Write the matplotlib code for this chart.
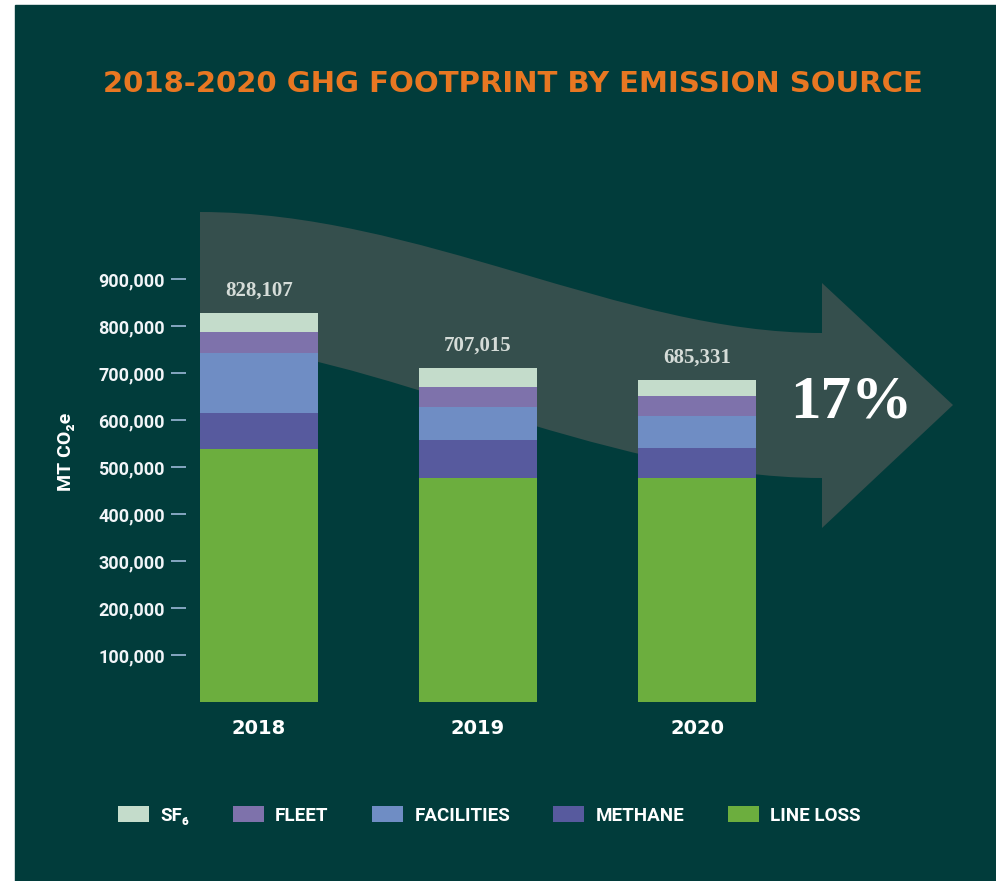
import matplotlib.pyplot as plt
import numpy as np
from matplotlib.path import Path
from matplotlib.patches import PathPatch, Rectangle, Patch


YEARS = ["2018", "2019", "2020"]
LINE_LOSS = [538500, 477400, 477400]
METHANE = [77300, 80300, 62600]
FACILITIES = [127700, 70200, 68100]
FLEET = [44100, 42600, 43900]
SF6 = [40400, 40400, 33400]
TOTAL_LABELS = ["828,107", "707,015", "685,331"]
Y_TICKS = [100000, 200000, 300000, 400000, 500000, 600000, 700000, 800000, 900000]

BG = "#013c3b"
BAND = "#354f4d"
COLORS = {"SF₆": "#c4dccb", "FLEET": "#7e72ab", "FACILITIES": "#6f8dc4",
          "METHANE": "#575a9e", "LINE LOSS": "#6cae3e"}
W, H = 996, 881


def main():
    fig = plt.figure(figsize=(W / 100, H / 100), dpi=100)
    fig.patch.set_facecolor("white")

    # background panel + big arrow, drawn in pixel coordinates
    deco = fig.add_axes([0, 0, 1, 1])
    deco.set_xlim(0, W)
    deco.set_ylim(H, 0)
    deco.axis("off")
    deco.add_patch(Rectangle((15, 5), W - 15, H - 5, color=BG, zorder=0))
    verts = [(200, 212), (420, 212), (620, 333), (822, 333),
             (822, 283), (953, 405), (822, 528), (822, 478),
             (600, 478), (360, 345), (200, 345), (200, 212)]
    codes = [Path.MOVETO, Path.CURVE4, Path.CURVE4, Path.CURVE4,
             Path.LINETO, Path.LINETO, Path.LINETO, Path.LINETO,
             Path.CURVE4, Path.CURVE4, Path.CURVE4, Path.CLOSEPOLY]
    deco.add_patch(PathPatch(Path(verts, codes), facecolor=BAND, edgecolor="none", zorder=1))
    deco.text(851, 403, "17%", ha="center", va="center", color="white",
              fontsize=44, fontweight="bold", family="Liberation Serif", zorder=2)

    # bar chart
    ax = fig.add_axes([160 / W, (H - 702) / H, 820 / W, 502 / H])
    ax.patch.set_alpha(0)
    x = np.arange(len(YEARS))
    bottom = np.zeros(len(YEARS))
    for name, vals in [("LINE LOSS", LINE_LOSS), ("METHANE", METHANE),
                       ("FACILITIES", FACILITIES), ("FLEET", FLEET), ("SF₆", SF6)]:
        ax.bar(x, vals, 0.539, bottom=bottom, color=COLORS[name], linewidth=0)
        bottom += np.array(vals)

    for xi, top, lab in zip(x, bottom, TOTAL_LABELS):
        ax.annotate(lab, (xi, top), xytext=(0, 16), textcoords="offset points",
                    ha="center", va="center", color="#d5dcd8", fontsize=15,
                    fontweight="bold", family="Liberation Serif")

    ax.set_xlim(-99 / 219, 2 + 283 / 219)
    ax.set_ylim(0, 502 / 0.4698 * 1000)
    for s in ax.spines.values():
        s.set_visible(False)
    ax.spines["left"].set_position(("data", -73 / 219))

    ax.set_yticks(Y_TICKS)
    ax.set_yticklabels([f"{v:,}" for v in Y_TICKS], family="Roboto",
                       fontweight="bold", fontsize=13, color="#f2f5f8")
    ax.tick_params(axis="y", direction="out", length=10.8, width=1.2,
                   color="#9bb8d8", pad=4.3)

    ax.set_xticks(x)
    ax.set_xticklabels(YEARS, family="DejaVu Sans", fontweight="bold",
                       fontsize=14, color="white")
    ax.tick_params(axis="x", length=0, pad=12)

    fig.text(66 / W, 1 - 452 / H, "MT CO₂e", rotation=90, ha="center", va="center",
             color="white", fontsize=14, fontweight="bold", family=["Roboto", "DejaVu Sans"])

    fig.text(513 / W, 1 - 84 / H, "2018-2020 GHG FOOTPRINT BY EMISSION SOURCE",
             ha="center", va="center", color="#e87722", fontsize=21,
             fontweight="bold", family="DejaVu Sans")

    handles = [Patch(facecolor=c, edgecolor="none", label=n) for n, c in COLORS.items()]
    leg = fig.legend(handles=handles, loc="center left", bbox_to_anchor=(118 / W, 1 - 815.5 / H),
                     ncol=5, frameon=False, borderpad=0, borderaxespad=0,
                     handlelength=1.65, handleheight=0.9, handletextpad=0.62,
                     columnspacing=2.3,
                     prop={"family": ["Roboto", "DejaVu Sans"], "weight": "bold", "size": 13.5})
    for t in leg.get_texts():
        t.set_color("white")

    fig.savefig("out.png", dpi=100, facecolor=fig.get_facecolor())


if __name__ == "__main__":
    main()
